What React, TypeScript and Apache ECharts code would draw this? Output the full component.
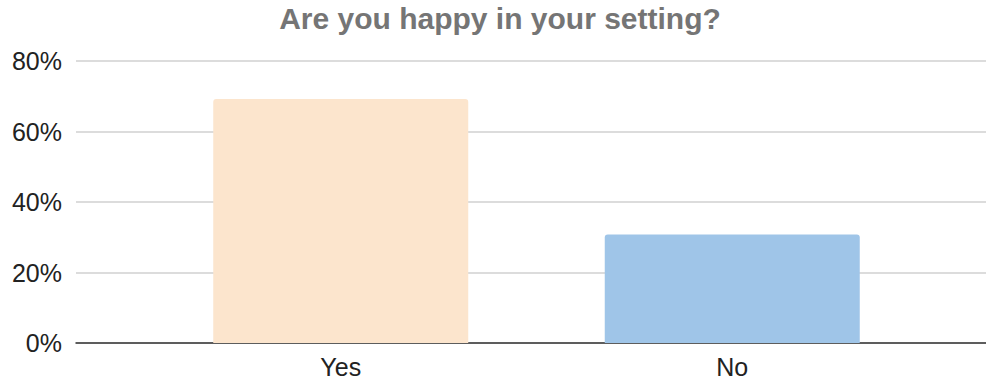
import React, { useEffect, useRef } from "react";
import * as echarts from "echarts";

const TITLE = "Are you happy in your setting?";
const categories = ["Yes", "No"];
const values = [69.2, 30.8];
const barColors = ["#fce5cd", "#9fc5e8"];
const yMin = 0;
const yMax = 80;
const yInterval = 20;

const FONT = '"Liberation Sans", Arial, sans-serif';

export default function App() {
  const ref = useRef<HTMLDivElement>(null);
  useEffect(() => {
    document.body.style.margin = "0";
    if (!ref.current) return;
    const chart = echarts.init(ref.current, undefined, { renderer: "svg" });
    chart.setOption({
      animation: false,
      backgroundColor: "#ffffff",
      graphic: [
        {
          type: "text",
          x: 500,
          y: 18,
          style: {
            text: TITLE,
            align: "center",
            verticalAlign: "middle",
            font: `bold 30px ${FONT}`,
            fill: "#757575",
          },
        },
      ],
      grid: [
        { left: 76, right: 0, top: 61, bottom: 37 },
        { left: 145, width: 783, top: 61, bottom: 37 },
      ],
      xAxis: [
        {
          type: "category",
          gridIndex: 0,
          data: [""],
          axisLine: { show: true, lineStyle: { color: "#333333", width: 1.5 } },
          axisTick: { show: false },
          axisLabel: { show: false },
          splitLine: { show: false },
        },
        {
          type: "category",
          gridIndex: 1,
          data: categories,
          axisLine: { show: false },
          axisTick: { show: false },
          axisLabel: {
            show: true,
            fontSize: 25,
            fontFamily: FONT,
            color: "#222222",
            margin: 11,
          },
        },
      ],
      yAxis: [
        {
          type: "value",
          gridIndex: 0,
          min: yMin,
          max: yMax,
          interval: yInterval,
          axisLine: { show: false },
          axisTick: { show: false },
          axisLabel: {
            formatter: "{value}%",
            fontSize: 25,
            fontFamily: FONT,
            color: "#222222",
            margin: 14,
          },
          splitLine: { show: true, lineStyle: { color: "#d0d0d0", width: 1.5 } },
        },
        {
          type: "value",
          gridIndex: 1,
          min: yMin,
          max: yMax,
          interval: yInterval,
          show: false,
          splitLine: { show: false },
        },
      ],
      series: [
        {
          type: "bar",
          xAxisIndex: 1,
          yAxisIndex: 1,
          barWidth: 255,
          data: values.map((v, i) => ({
            value: v,
            itemStyle: { color: barColors[i], borderRadius: [3, 3, 0, 0] },
          })),
          z: 3,
        },
      ],
    });
    return () => chart.dispose();
  }, []);
  return <div ref={ref} style={{ width: 986, height: 380 }} />;
}
